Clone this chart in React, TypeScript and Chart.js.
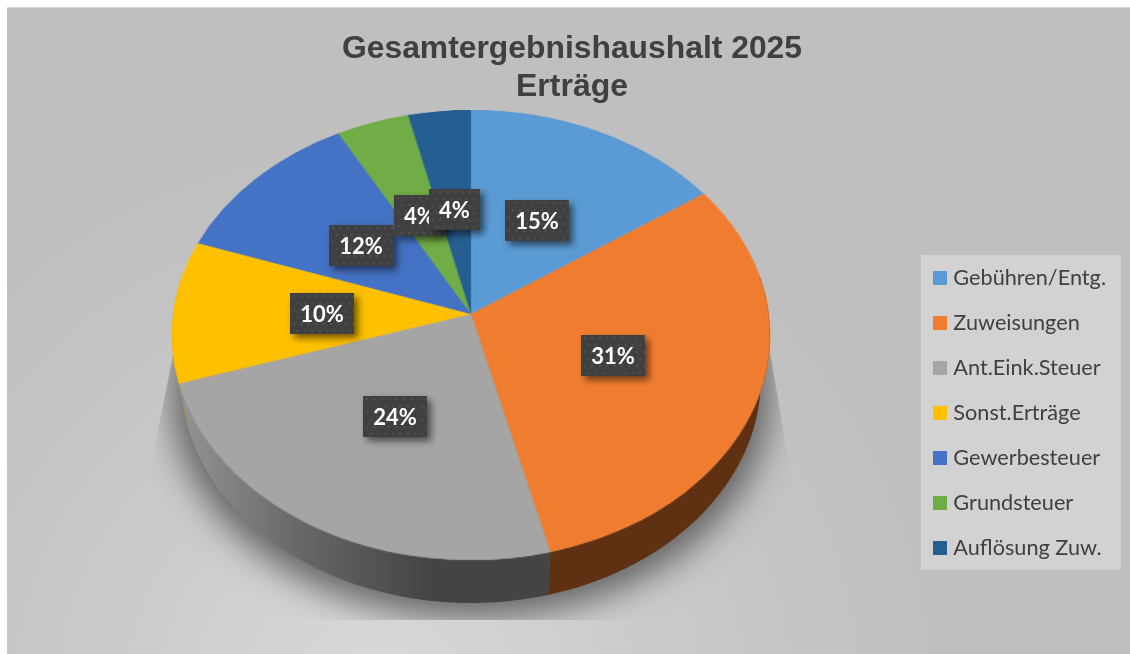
import React, { useEffect, useRef } from "react";
import { Chart, registerables } from "chart.js";

Chart.register(...registerables);

const TITLE_LINES = ["Gesamtergebnishaushalt 2025", "Erträge"];
const CATEGORIES = ["Gebühren/Entg.", "Zuweisungen", "Ant.Eink.Steuer", "Sonst.Erträge", "Gewerbesteuer", "Grundsteuer", "Auflösung Zuw."];
const VALUES = [15.4, 30.7, 24.0, 10.2, 11.7, 4.3, 3.7];
const COLORS = ["#5b9bd5", "#f07d2f", "#a5a5a5", "#ffc000", "#4472c4", "#70ad47", "#255e91"];
const WALL_COLORS = ["#35597c", "#5f3112", "#444444", "#c99a00", "#2a4478", "#44682b", "#163a5a"];

// perspective of the 3D disc, as factors of the library's pie radius
const KEEP = 0.0934;
const TOP_X = 297.7 / 204;
const TOP_Y = 223 / 204;
const FLOOR_X = 288.7 / 204;
const FLOOR_SHIFT = 43 / 204;

const project = (arc: any, a: number, f: number, sx: number, shift: number) => {
  const u = f * Math.cos(a), v = f * Math.sin(a);
  const w = 1 - KEEP * v;
  return {
    x: arc.x + (arc.outerRadius * sx * u) / w,
    y: arc.y + arc.outerRadius * shift + (arc.outerRadius * TOP_Y * v) / w,
  };
};
const edge = (arc: any, a: number, f = 1) => project(arc, a, f, TOP_X, 0);
const floorEdge = (arc: any, a: number) => project(arc, a, 1, FLOOR_X, FLOOR_SHIFT);

const scene = {
  id: "scene",
  afterLayout(chart: any) {
    const t = chart.titleBlock;
    t.left = 342; t.right = 802;
    const l = chart.legend;
    const w = l.width, h = l.height;
    l.left = 914.2; l.right = l.left + w; l.top = 243.8; l.bottom = l.top + h;
  },
  beforeDraw(chart: any) {
    const { ctx, width, height } = chart;
    ctx.save();
    ctx.fillStyle = "#ffffff";
    ctx.fillRect(0, 0, width, height);
    ctx.fillStyle = "#d9d9d9";
    ctx.fillRect(7, 7, width - 7, height - 7);
    const g = ctx.createRadialGradient(380, 700, 40, 380, 700, 560);
    g.addColorStop(0, "#d7d7d7");
    g.addColorStop(0.55, "#c8c8c8");
    g.addColorStop(1, "#bfbfbf");
    ctx.fillStyle = g;
    ctx.fillRect(7, 8, width - 7, height - 8);
    // legend panel
    ctx.fillStyle = "#d2d2d2";
    ctx.fillRect(921, 255, 200, 315);
    ctx.restore();
  },
  beforeDatasetsDraw(chart: any) {
    const { ctx, width, height } = chart;
    const meta = chart.getDatasetMeta(0);
    const first = meta.data[0];
    const { x: cx, y: cy, outerRadius: R } = first;

    // floor shadow
    ctx.save();
    ctx.beginPath();
    ctx.moveTo(176, 340); ctx.lineTo(150, 470); ctx.lineTo(150, 620);
    ctx.lineTo(795, 620); ctx.lineTo(790, 470); ctx.lineTo(768, 340);
    ctx.closePath();
    ctx.clip();
    ctx.filter = "blur(17px)";
    ctx.fillStyle = "rgba(50,50,50,0.68)";
    ctx.beginPath();
    for (let i = 0; i <= 240; i++) {
      const a = (i / 240) * Math.PI * 2;
      const p = floorEdge(first, a);
      const px = cx + (p.x - cx) * 1.03;
      const py = p.y + 15;
      if (i === 0) ctx.moveTo(px, py); else ctx.lineTo(px, py);
    }
    ctx.closePath();
    ctx.fill();
    ctx.restore();

    // disc wall
    const from = -Math.PI / 18, to = Math.PI + Math.PI / 18;
    meta.data.forEach((arc: any, i: number) => {
      const a0 = Math.max(arc.startAngle, from), a1 = Math.min(arc.endAngle, to);
      if (a1 <= a0) return;
      ctx.beginPath();
      const n = Math.max(2, Math.ceil((a1 - a0) / 0.01));
      for (let k = 0; k <= n; k++) {
        const p = edge(arc, a0 + ((a1 - a0) * k) / n);
        if (k === 0) ctx.moveTo(p.x, p.y); else ctx.lineTo(p.x, p.y);
      }
      for (let k = n; k >= 0; k--) {
        const p = floorEdge(arc, a0 + ((a1 - a0) * k) / n);
        ctx.lineTo(p.x, p.y);
      }
      ctx.closePath();
      if (i === 2) {
        const g = ctx.createLinearGradient(180, 0, 430, 0);
        g.addColorStop(0, "#949494");
        g.addColorStop(0.45, "#6a6a6a");
        g.addColorStop(1, "#444444");
        ctx.fillStyle = g;
      } else {
        ctx.fillStyle = WALL_COLORS[i];
      }
      ctx.fill();
    });

    // top face: the library's arcs are drawn flat, then laid in perspective row by row
    const flat = document.createElement("canvas");
    flat.width = width;
    flat.height = height;
    const fctx = flat.getContext("2d")!;
    for (let pass = 0; pass < 2; pass++) meta.data.forEach((arc: any) => arc.draw(fctx));
    const A = R * TOP_X, B = R * TOP_Y, M = R + 3;
    const vAt = (y: number) => y / (B + KEEP * y);
    const y0 = Math.floor(cy - B / (1 + KEEP)) - 2;
    const y1 = Math.ceil(cy + B / (1 - KEEP)) + 2;
    ctx.save();
    ctx.imageSmoothingEnabled = true;
    ctx.imageSmoothingQuality = "high";
    for (let Y = y0; Y <= y1; Y++) {
      const vm = vAt(Y + 0.5 - cy);
      const w = 1 - KEEP * vm;
      const s0 = cy + R * vAt(Y - cy);
      const s1 = cy + R * vAt(Y + 1 - cy);
      const half = (M * A) / (R * w);
      ctx.drawImage(flat, cx - M, s0, 2 * M, s1 - s0, cx - half, Y, 2 * half, 1);
    }
    ctx.restore();
    return false;
  },
  afterDraw(chart: any) {
    const { ctx } = chart;
    const meta = chart.getDatasetMeta(0);
    const total = VALUES.reduce((s, v) => s + v, 0);
    const h = 41;
    meta.data.forEach((arc: any, i: number) => {
      const text = `${Math.round((VALUES[i] / total) * 100)}%`;
      ctx.font = "bold 22px Lato";
      const w = Math.round(ctx.measureText(text).width + 20);
      const p = edge(arc, (arc.startAngle + arc.endAngle) / 2, 0.5);
      const x = Math.round(p.x - w / 2), y = Math.round(p.y - h / 2) + 1;
      ctx.save();
      ctx.shadowColor = "rgba(0,0,0,0.55)";
      ctx.shadowBlur = 7;
      ctx.shadowOffsetX = 4;
      ctx.shadowOffsetY = 4;
      ctx.fillStyle = "#404040";
      ctx.fillRect(x, y, w, h);
      ctx.restore();
      ctx.save();
      ctx.beginPath();
      ctx.rect(x, y, w, h);
      ctx.clip();
      ctx.fillStyle = "#4f4f4f";
      for (let r = 0; r < 6; r++) {
        for (let c = 0; c < 9; c++) {
          ctx.beginPath();
          ctx.arc(x + 4 + c * 7.4 + (r % 2 ? 3.7 : 0), y + 3 + r * 7, 1.3, 0, Math.PI * 2);
          ctx.fill();
        }
      }
      ctx.restore();
      ctx.save();
      ctx.fillStyle = "#ffffff";
      ctx.font = "bold 22px Lato";
      ctx.textAlign = "center";
      ctx.textBaseline = "middle";
      ctx.fillText(text, x + w / 2, y + h / 2 + 1);
      ctx.restore();
    });
  },
};

export default function App() {
  const ref = useRef<HTMLCanvasElement>(null);
  useEffect(() => {
    const chart = new Chart(ref.current!, {
      type: "pie",
      data: {
        labels: CATEGORIES,
        datasets: [{ data: VALUES, backgroundColor: COLORS, borderWidth: 0 }],
      },
      plugins: [scene],
      options: {
        animation: false,
        responsive: false,
        devicePixelRatio: 1,
        layout: { padding: { top: 30, left: 267, right: 455, bottom: 136 } },
        plugins: {
          tooltip: { enabled: false },
          title: {
            display: true,
            text: TITLE_LINES,
            color: "#404040",
            font: { family: "Liberation Sans", weight: "bold", size: 32, lineHeight: 38 / 32 },
            padding: { top: 0, bottom: 4 },
          },
          legend: {
            display: true,
            position: "chartArea",
            align: "start",
            labels: {
              color: "#404040",
              font: { family: "Lato", size: 21.7 },
              boxWidth: 5,
              boxHeight: 5,
              padding: 23.3,
              generateLabels: () =>
                CATEGORIES.map((text, i) => ({
                  text,
                  fillStyle: COLORS[i],
                  strokeStyle: COLORS[i],
                  lineWidth: 9,
                  index: i,
                  datasetIndex: 0,
                  fontColor: "#404040",
                })),
            },
          },
        },
      } as any,
    });
    return () => chart.destroy();
  }, []);
  return <canvas ref={ref} width={1130} height={654} style={{ position: "fixed", left: 0, top: 0, display: "block" }} />;
}
